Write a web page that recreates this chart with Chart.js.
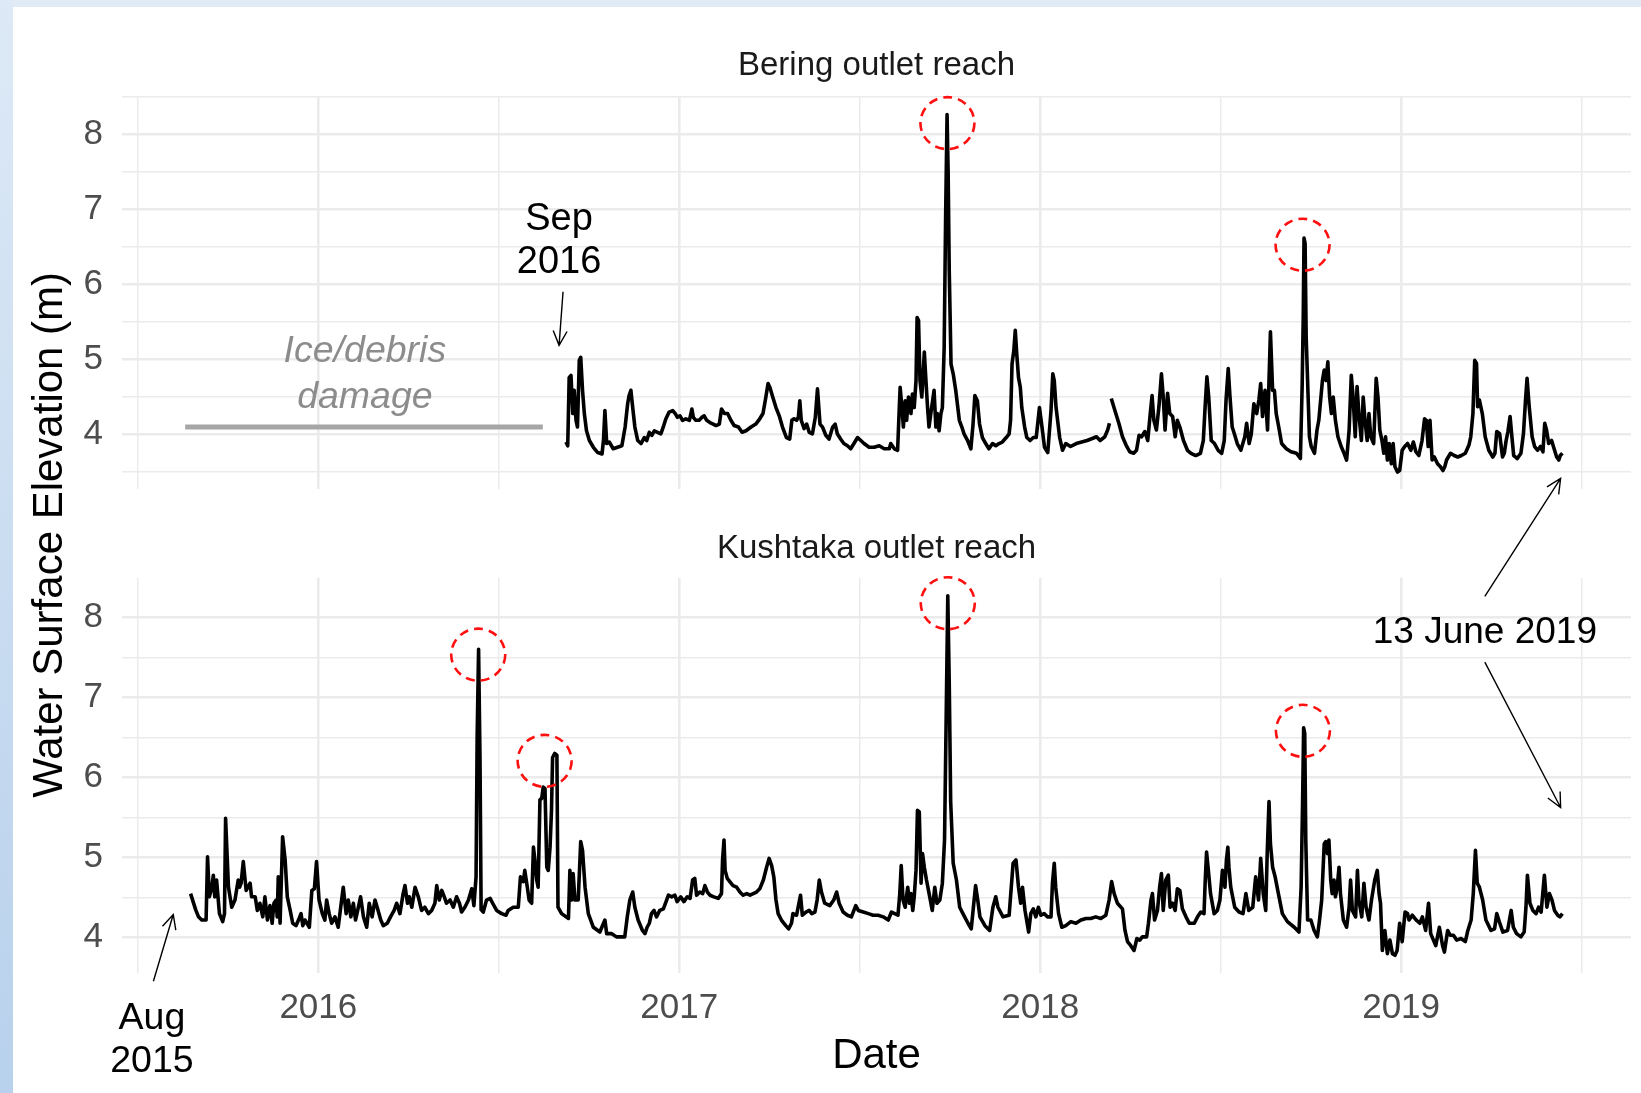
<!DOCTYPE html>
<html>
<head>
<meta charset="utf-8">
<title>Water surface elevation - Bering and Kushtaka outlet reaches</title>
<script src="https://cdn.jsdelivr.net/npm/chart.js@4.4.1/dist/chart.umd.min.js"></script>
<style>
  html, body { margin: 0; padding: 0; background: #fff; }
  #page { position: relative; width: 1641px; height: 1093px; overflow: hidden; background: #fff; }
  .band-top { position: absolute; left: 0; top: 0; width: 1641px; height: 7px; background: #e0ebf6; }
  .band-left { position: absolute; left: 0; top: 0; width: 13px; height: 1093px;
               background: linear-gradient(#dde9f6, #b8d1ec); }
  canvas { position: absolute; left: 0; top: 0; }
</style>
</head>
<body>
<div id="page">
  <div class="band-top"></div>
  <div class="band-left"></div>
  <canvas id="bering" width="1641" height="1093"></canvas>
  <canvas id="kushtaka" width="1641" height="1093"></canvas>
</div>
<script>
// Water surface elevation (m), x in decimal years

const panelTitles = ['Bering outlet reach', 'Kushtaka outlet reach'];
const yearLabels = [2016, 2017, 2018, 2019];

// Bering outlet reach: record starts Sep 2016 (ice/debris damage before)
const beringSeries = [
  [2016.686, 3.90], [2016.691, 3.85], [2016.695, 4.76], [2016.700, 4.79], [2016.705, 4.28], [2016.709, 4.59],
  [2016.714, 4.19], [2016.718, 4.10], [2016.723, 4.99], [2016.727, 5.03], [2016.732, 4.59], [2016.737, 4.28],
  [2016.743, 4.05], [2016.751, 3.92], [2016.762, 3.83], [2016.774, 3.76], [2016.786, 3.74], [2016.790, 3.92],
  [2016.794, 4.32], [2016.799, 3.88], [2016.806, 3.90], [2016.817, 3.81], [2016.829, 3.83], [2016.841, 3.85],
  [2016.850, 4.10], [2016.857, 4.41], [2016.861, 4.52], [2016.866, 4.59], [2016.871, 4.36], [2016.877, 4.10],
  [2016.885, 3.92], [2016.894, 3.88], [2016.903, 3.96], [2016.910, 3.92], [2016.917, 4.03], [2016.924, 3.99],
  [2016.931, 4.05], [2016.940, 4.03], [2016.949, 4.01], [2016.957, 4.12], [2016.963, 4.21], [2016.972, 4.30],
  [2016.982, 4.32], [2016.989, 4.28], [2016.995, 4.23], [2017.002, 4.25], [2017.009, 4.19], [2017.018, 4.21],
  [2017.028, 4.19], [2017.035, 4.34], [2017.039, 4.23], [2017.046, 4.19], [2017.055, 4.19], [2017.063, 4.23],
  [2017.069, 4.25], [2017.076, 4.19], [2017.085, 4.16], [2017.094, 4.14], [2017.102, 4.12], [2017.111, 4.14],
  [2017.117, 4.34], [2017.125, 4.28], [2017.134, 4.28], [2017.143, 4.19], [2017.152, 4.12], [2017.164, 4.10],
  [2017.174, 4.03], [2017.185, 4.05], [2017.199, 4.10], [2017.212, 4.14], [2017.223, 4.21], [2017.232, 4.28],
  [2017.240, 4.50], [2017.246, 4.68], [2017.251, 4.63], [2017.259, 4.50], [2017.268, 4.36], [2017.277, 4.25],
  [2017.286, 4.10], [2017.297, 3.96], [2017.306, 3.94], [2017.312, 4.19], [2017.318, 4.21], [2017.325, 4.19],
  [2017.330, 4.23], [2017.334, 4.45], [2017.338, 4.19], [2017.346, 4.08], [2017.353, 4.14], [2017.360, 4.03],
  [2017.369, 4.01], [2017.377, 4.23], [2017.383, 4.61], [2017.390, 4.14], [2017.397, 4.10], [2017.406, 3.99],
  [2017.415, 3.94], [2017.425, 4.10], [2017.432, 4.14], [2017.438, 4.01], [2017.447, 3.94], [2017.456, 3.88],
  [2017.466, 3.85], [2017.475, 3.81], [2017.484, 3.88], [2017.494, 3.96], [2017.503, 3.92], [2017.512, 3.88],
  [2017.526, 3.83], [2017.540, 3.83], [2017.554, 3.85], [2017.568, 3.81], [2017.582, 3.81], [2017.586, 3.88],
  [2017.596, 3.81], [2017.605, 3.79], [2017.609, 4.28], [2017.612, 4.63], [2017.617, 4.36], [2017.621, 4.10],
  [2017.626, 4.45], [2017.630, 4.19], [2017.635, 4.50], [2017.642, 4.28], [2017.646, 4.54], [2017.651, 4.36],
  [2017.656, 4.72], [2017.659, 5.56], [2017.663, 5.52], [2017.667, 4.72], [2017.672, 4.50], [2017.679, 5.10],
  [2017.683, 4.76], [2017.688, 4.36], [2017.692, 4.10], [2017.697, 4.28], [2017.702, 4.45], [2017.706, 4.59],
  [2017.711, 4.10], [2017.715, 4.28], [2017.720, 4.05], [2017.725, 4.28], [2017.729, 4.36], [2017.734, 5.16],
  [2017.738, 6.90], [2017.742, 8.27], [2017.745, 7.50], [2017.748, 6.20], [2017.753, 4.94], [2017.759, 4.81],
  [2017.766, 4.59], [2017.776, 4.19], [2017.783, 4.10], [2017.789, 4.01], [2017.799, 3.92], [2017.808, 3.81],
  [2017.814, 4.14], [2017.819, 4.52], [2017.826, 4.45], [2017.832, 4.14], [2017.840, 3.96], [2017.849, 3.88],
  [2017.858, 3.81], [2017.868, 3.88], [2017.877, 3.85], [2017.886, 3.88], [2017.895, 3.90], [2017.906, 3.96],
  [2017.914, 4.01], [2017.918, 4.19], [2017.922, 4.94], [2017.927, 5.12], [2017.931, 5.39], [2017.935, 5.08],
  [2017.940, 4.76], [2017.945, 4.63], [2017.949, 4.36], [2017.957, 4.10], [2017.963, 3.96], [2017.972, 3.92],
  [2017.981, 3.96], [2017.989, 3.96], [2017.998, 4.36], [2018.005, 4.10], [2018.012, 3.83], [2018.021, 3.76],
  [2018.030, 4.32], [2018.035, 4.81], [2018.039, 4.72], [2018.044, 4.36], [2018.054, 3.96], [2018.062, 3.79],
  [2018.071, 3.88], [2018.084, 3.84], [2018.100, 3.88], [2018.115, 3.90], [2018.130, 3.92], [2018.146, 3.95],
  [2018.156, 3.97], [2018.166, 3.92], [2018.179, 3.97], [2018.187, 4.06], [2018.192, 4.15], [2018.194, null],
  [2018.197, 4.48], [2018.207, 4.32], [2018.218, 4.15], [2018.228, 3.97], [2018.238, 3.86], [2018.248, 3.77],
  [2018.259, 3.75], [2018.267, 3.79], [2018.274, 3.99], [2018.281, 3.97], [2018.290, 4.04], [2018.298, 3.92],
  [2018.305, 4.28], [2018.310, 4.52], [2018.315, 4.19], [2018.322, 4.06], [2018.329, 4.37], [2018.336, 4.81],
  [2018.341, 4.50], [2018.346, 4.06], [2018.353, 4.55], [2018.359, 4.28], [2018.367, 4.24], [2018.374, 3.97],
  [2018.380, 4.19], [2018.387, 4.10], [2018.397, 3.92], [2018.408, 3.79], [2018.418, 3.75], [2018.431, 3.72],
  [2018.444, 3.75], [2018.452, 3.92], [2018.457, 4.37], [2018.462, 4.77], [2018.467, 4.50], [2018.474, 3.92],
  [2018.483, 3.88], [2018.493, 3.79], [2018.503, 3.75], [2018.510, 3.92], [2018.515, 4.46], [2018.521, 4.88],
  [2018.526, 4.50], [2018.532, 4.10], [2018.538, 4.01], [2018.546, 3.88], [2018.556, 3.79], [2018.567, 3.97],
  [2018.572, 4.15], [2018.579, 3.88], [2018.585, 4.01], [2018.592, 4.41], [2018.600, 4.28], [2018.606, 4.46],
  [2018.611, 4.68], [2018.616, 4.24], [2018.623, 4.59], [2018.630, 4.06], [2018.634, 4.72], [2018.638, 5.37],
  [2018.644, 4.59], [2018.649, 4.59], [2018.654, 4.28], [2018.661, 4.10], [2018.669, 3.88], [2018.682, 3.81],
  [2018.695, 3.77], [2018.710, 3.75], [2018.721, 3.68], [2018.726, 4.68], [2018.729, 5.61], [2018.731, 6.62],
  [2018.734, 6.55], [2018.737, 5.30], [2018.746, 3.97], [2018.751, 3.84], [2018.760, 3.75], [2018.767, 4.06],
  [2018.772, 4.19], [2018.782, 4.72], [2018.787, 4.86], [2018.792, 4.72], [2018.797, 4.97], [2018.802, 4.50],
  [2018.807, 4.28], [2018.812, 4.50], [2018.818, 4.19], [2018.825, 3.97], [2018.834, 3.84], [2018.842, 3.75],
  [2018.849, 3.66], [2018.856, 4.06], [2018.862, 4.79], [2018.867, 4.50], [2018.873, 3.97], [2018.878, 4.64],
  [2018.883, 4.28], [2018.890, 3.92], [2018.895, 4.50], [2018.900, 4.19], [2018.906, 3.92], [2018.911, 4.28],
  [2018.916, 3.97], [2018.924, 3.88], [2018.931, 4.75], [2018.936, 4.50], [2018.941, 4.06], [2018.947, 3.92],
  [2018.952, 3.75], [2018.957, 3.97], [2018.962, 3.66], [2018.967, 3.88], [2018.973, 3.61], [2018.978, 3.88],
  [2018.983, 3.57], [2018.990, 3.50], [2018.996, 3.52], [2019.003, 3.79], [2019.010, 3.84], [2019.018, 3.88],
  [2019.027, 3.79], [2019.034, 3.90], [2019.041, 3.77], [2019.049, 3.72], [2019.058, 3.92], [2019.065, 4.21],
  [2019.070, 4.19], [2019.075, 3.84], [2019.080, 4.19], [2019.086, 3.66], [2019.092, 3.70], [2019.101, 3.61],
  [2019.109, 3.57], [2019.116, 3.52], [2019.121, 3.57], [2019.126, 3.66], [2019.137, 3.75], [2019.147, 3.72],
  [2019.157, 3.70], [2019.167, 3.72], [2019.178, 3.75], [2019.188, 3.86], [2019.193, 3.97], [2019.199, 4.28],
  [2019.204, 4.99], [2019.209, 4.95], [2019.212, 4.37], [2019.217, 4.46], [2019.225, 4.28], [2019.233, 3.97],
  [2019.243, 3.79], [2019.254, 3.70], [2019.260, 3.75], [2019.265, 4.04], [2019.273, 4.01], [2019.281, 3.70],
  [2019.286, 3.75], [2019.291, 3.92], [2019.296, 4.04], [2019.302, 4.24], [2019.307, 3.97], [2019.312, 3.72],
  [2019.322, 3.68], [2019.332, 3.75], [2019.339, 4.01], [2019.345, 4.48], [2019.349, 4.75], [2019.355, 4.37],
  [2019.363, 3.97], [2019.370, 3.84], [2019.378, 3.79], [2019.386, 3.84], [2019.393, 3.77], [2019.398, 4.15],
  [2019.403, 4.06], [2019.409, 3.88], [2019.417, 3.92], [2019.424, 3.81], [2019.431, 3.70], [2019.437, 3.66],
  [2019.441, 3.72], [2019.447, 3.75]
];

// grey bar marking the ice/debris damage period on the Bering gauge
const iceDamage = [[2015.631, 4.10], [2016.622, 4.10]];

// Kushtaka outlet reach: Aug 2015 to 13 June 2019
const kushtakaSeries = [
  [2015.646, 4.55], [2015.660, 4.35], [2015.668, 4.26], [2015.677, 4.22], [2015.689, 4.22], [2015.693, 5.01],
  [2015.698, 4.51], [2015.705, 4.63], [2015.709, 4.78], [2015.713, 4.51], [2015.718, 4.72], [2015.726, 4.30],
  [2015.735, 4.20], [2015.740, 4.30], [2015.743, 5.49], [2015.751, 4.63], [2015.760, 4.38], [2015.769, 4.47],
  [2015.778, 4.72], [2015.782, 4.63], [2015.786, 4.68], [2015.792, 4.95], [2015.800, 4.59], [2015.811, 4.68],
  [2015.815, 4.51], [2015.825, 4.51], [2015.831, 4.34], [2015.838, 4.43], [2015.846, 4.26], [2015.852, 4.51],
  [2015.859, 4.22], [2015.866, 4.40], [2015.872, 4.18], [2015.877, 4.43], [2015.883, 4.47], [2015.886, 4.26],
  [2015.889, 4.76], [2015.894, 4.18], [2015.901, 5.26], [2015.908, 4.97], [2015.914, 4.51], [2015.922, 4.34],
  [2015.929, 4.18], [2015.938, 4.15], [2015.945, 4.22], [2015.952, 4.30], [2015.957, 4.15], [2015.963, 4.22],
  [2015.975, 4.13], [2015.982, 4.59], [2015.989, 4.61], [2015.995, 4.95], [2016.002, 4.47], [2016.011, 4.30],
  [2016.018, 4.22], [2016.023, 4.47], [2016.030, 4.30], [2016.037, 4.18], [2016.046, 4.26], [2016.055, 4.13],
  [2016.062, 4.38], [2016.069, 4.63], [2016.077, 4.30], [2016.083, 4.47], [2016.090, 4.26], [2016.097, 4.43],
  [2016.103, 4.22], [2016.109, 4.34], [2016.117, 4.51], [2016.125, 4.26], [2016.134, 4.13], [2016.141, 4.43],
  [2016.149, 4.26], [2016.157, 4.47], [2016.163, 4.38], [2016.173, 4.22], [2016.180, 4.15], [2016.191, 4.18],
  [2016.200, 4.26], [2016.210, 4.34], [2016.217, 4.43], [2016.226, 4.30], [2016.235, 4.55], [2016.240, 4.65],
  [2016.247, 4.43], [2016.252, 4.51], [2016.259, 4.38], [2016.268, 4.63], [2016.277, 4.51], [2016.286, 4.34],
  [2016.295, 4.38], [2016.305, 4.30], [2016.314, 4.34], [2016.323, 4.43], [2016.328, 4.65], [2016.335, 4.47],
  [2016.342, 4.59], [2016.349, 4.51], [2016.355, 4.43], [2016.365, 4.47], [2016.374, 4.38], [2016.383, 4.51],
  [2016.391, 4.43], [2016.397, 4.32], [2016.406, 4.38], [2016.416, 4.47], [2016.425, 4.61], [2016.431, 4.40],
  [2016.437, 4.76], [2016.440, 6.50], [2016.444, 7.60], [2016.448, 6.20], [2016.451, 4.35], [2016.457, 4.32],
  [2016.466, 4.47], [2016.476, 4.49], [2016.483, 4.43], [2016.494, 4.34], [2016.508, 4.30], [2016.520, 4.28],
  [2016.526, 4.34], [2016.540, 4.38], [2016.554, 4.38], [2016.560, 4.76], [2016.568, 4.70], [2016.572, 4.84],
  [2016.579, 4.63], [2016.584, 4.47], [2016.591, 4.43], [2016.596, 5.13], [2016.600, 4.97], [2016.605, 4.72],
  [2016.609, 4.63], [2016.614, 5.72], [2016.619, 5.74], [2016.623, 5.88], [2016.628, 5.86], [2016.633, 4.88],
  [2016.637, 4.84], [2016.642, 5.13], [2016.646, 5.59], [2016.649, 6.25], [2016.655, 6.30], [2016.661, 6.28],
  [2016.664, 4.38], [2016.674, 4.30], [2016.693, 4.24], [2016.697, 4.84], [2016.702, 4.47], [2016.706, 4.80],
  [2016.711, 4.47], [2016.720, 4.47], [2016.727, 5.20], [2016.732, 5.09], [2016.739, 4.63], [2016.748, 4.30],
  [2016.762, 4.13], [2016.780, 4.07], [2016.794, 4.22], [2016.799, 4.05], [2016.813, 4.05], [2016.826, 4.01],
  [2016.840, 4.01], [2016.849, 4.01], [2016.856, 4.26], [2016.863, 4.47], [2016.871, 4.57], [2016.877, 4.38],
  [2016.886, 4.22], [2016.898, 4.09], [2016.905, 4.05], [2016.911, 4.13], [2016.917, 4.18], [2016.923, 4.30],
  [2016.930, 4.34], [2016.937, 4.26], [2016.946, 4.34], [2016.956, 4.36], [2016.965, 4.47], [2016.970, 4.53],
  [2016.979, 4.51], [2016.988, 4.53], [2016.994, 4.45], [2017.004, 4.51], [2017.013, 4.45], [2017.022, 4.51],
  [2017.030, 4.49], [2017.037, 4.72], [2017.043, 4.74], [2017.048, 4.53], [2017.057, 4.57], [2017.065, 4.55],
  [2017.071, 4.65], [2017.078, 4.57], [2017.085, 4.53], [2017.096, 4.51], [2017.108, 4.49], [2017.117, 4.55],
  [2017.120, 4.97], [2017.124, 5.22], [2017.127, 4.84], [2017.133, 4.74], [2017.140, 4.70], [2017.149, 4.65],
  [2017.159, 4.63], [2017.168, 4.57], [2017.177, 4.53], [2017.187, 4.55], [2017.196, 4.53], [2017.205, 4.55],
  [2017.214, 4.57], [2017.223, 4.61], [2017.233, 4.72], [2017.242, 4.88], [2017.249, 4.99], [2017.256, 4.90],
  [2017.262, 4.76], [2017.268, 4.47], [2017.274, 4.30], [2017.283, 4.22], [2017.295, 4.15], [2017.303, 4.11],
  [2017.311, 4.18], [2017.315, 4.30], [2017.325, 4.28], [2017.336, 4.53], [2017.341, 4.28], [2017.351, 4.32],
  [2017.360, 4.34], [2017.367, 4.30], [2017.376, 4.32], [2017.382, 4.47], [2017.388, 4.72], [2017.394, 4.57],
  [2017.403, 4.43], [2017.417, 4.40], [2017.428, 4.47], [2017.436, 4.57], [2017.443, 4.43], [2017.454, 4.32],
  [2017.466, 4.28], [2017.477, 4.26], [2017.489, 4.40], [2017.496, 4.34], [2017.510, 4.32], [2017.524, 4.30],
  [2017.537, 4.28], [2017.551, 4.28], [2017.565, 4.26], [2017.579, 4.22], [2017.588, 4.32], [2017.597, 4.30],
  [2017.606, 4.28], [2017.611, 4.55], [2017.615, 4.90], [2017.620, 4.47], [2017.626, 4.38], [2017.633, 4.63],
  [2017.638, 4.43], [2017.642, 4.55], [2017.647, 4.34], [2017.651, 4.51], [2017.656, 4.84], [2017.660, 5.59],
  [2017.665, 5.57], [2017.670, 4.68], [2017.674, 5.05], [2017.679, 4.88], [2017.685, 4.72], [2017.694, 4.51],
  [2017.701, 4.34], [2017.708, 4.63], [2017.714, 4.43], [2017.722, 4.47], [2017.729, 4.68], [2017.735, 5.22],
  [2017.740, 6.90], [2017.744, 8.27], [2017.748, 7.20], [2017.752, 5.70], [2017.759, 4.93], [2017.768, 4.72],
  [2017.777, 4.38], [2017.786, 4.30], [2017.800, 4.18], [2017.809, 4.11], [2017.815, 4.38], [2017.821, 4.65],
  [2017.827, 4.47], [2017.833, 4.26], [2017.847, 4.15], [2017.860, 4.09], [2017.869, 4.38], [2017.877, 4.51],
  [2017.883, 4.38], [2017.897, 4.26], [2017.914, 4.28], [2017.925, 4.93], [2017.933, 4.97], [2017.940, 4.63],
  [2017.946, 4.43], [2017.951, 4.63], [2017.958, 4.34], [2017.968, 4.07], [2017.974, 4.30], [2017.981, 4.36],
  [2017.988, 4.26], [2017.995, 4.38], [2018.002, 4.28], [2018.011, 4.30], [2018.020, 4.26], [2018.030, 4.26],
  [2018.034, 4.68], [2018.039, 4.93], [2018.043, 4.63], [2018.051, 4.30], [2018.060, 4.13], [2018.071, 4.15],
  [2018.085, 4.20], [2018.099, 4.18], [2018.113, 4.22], [2018.127, 4.24], [2018.140, 4.24], [2018.154, 4.26],
  [2018.168, 4.24], [2018.182, 4.28], [2018.191, 4.47], [2018.198, 4.70], [2018.205, 4.55], [2018.214, 4.43],
  [2018.228, 4.36], [2018.235, 4.09], [2018.242, 3.95], [2018.251, 3.90], [2018.260, 3.84], [2018.268, 3.99],
  [2018.276, 3.97], [2018.283, 4.01], [2018.295, 4.01], [2018.300, 4.18], [2018.307, 4.47], [2018.311, 4.55],
  [2018.317, 4.22], [2018.325, 4.34], [2018.331, 4.63], [2018.336, 4.80], [2018.341, 4.34], [2018.348, 4.72],
  [2018.355, 4.78], [2018.360, 4.38], [2018.367, 4.43], [2018.374, 4.34], [2018.380, 4.61], [2018.387, 4.59],
  [2018.394, 4.36], [2018.404, 4.26], [2018.413, 4.18], [2018.427, 4.18], [2018.436, 4.26], [2018.445, 4.32],
  [2018.454, 4.30], [2018.457, 4.68], [2018.461, 5.07], [2018.466, 4.84], [2018.472, 4.55], [2018.482, 4.30],
  [2018.491, 4.34], [2018.498, 4.47], [2018.505, 4.84], [2018.512, 4.63], [2018.516, 4.97], [2018.520, 5.13],
  [2018.523, 4.88], [2018.528, 4.63], [2018.539, 4.38], [2018.551, 4.32], [2018.562, 4.30], [2018.570, 4.55],
  [2018.578, 4.34], [2018.589, 4.38], [2018.597, 4.76], [2018.605, 4.47], [2018.611, 4.99], [2018.618, 4.55],
  [2018.625, 4.34], [2018.629, 5.05], [2018.634, 5.70], [2018.638, 5.17], [2018.644, 4.88], [2018.651, 4.76],
  [2018.660, 4.55], [2018.671, 4.30], [2018.685, 4.20], [2018.704, 4.13], [2018.717, 4.07], [2018.723, 4.63],
  [2018.727, 5.67], [2018.730, 6.62], [2018.733, 6.55], [2018.736, 5.20], [2018.741, 4.22], [2018.750, 4.22],
  [2018.759, 4.09], [2018.768, 4.01], [2018.774, 4.22], [2018.780, 4.47], [2018.787, 5.17], [2018.791, 5.20],
  [2018.796, 5.05], [2018.800, 5.22], [2018.805, 4.72], [2018.809, 4.55], [2018.814, 4.72], [2018.818, 4.51],
  [2018.823, 4.63], [2018.828, 4.88], [2018.832, 4.55], [2018.840, 4.22], [2018.849, 4.13], [2018.856, 4.38],
  [2018.860, 4.72], [2018.865, 4.34], [2018.874, 4.26], [2018.879, 4.84], [2018.883, 4.47], [2018.891, 4.26],
  [2018.897, 4.68], [2018.903, 4.38], [2018.911, 4.22], [2018.918, 4.47], [2018.927, 4.72], [2018.934, 4.84],
  [2018.939, 4.55], [2018.943, 4.43], [2018.948, 3.84], [2018.955, 4.09], [2018.962, 3.80], [2018.969, 3.97],
  [2018.976, 3.80], [2018.983, 3.78], [2018.989, 3.84], [2018.996, 4.18], [2019.003, 3.95], [2019.011, 4.32],
  [2019.018, 4.30], [2019.022, 4.22], [2019.031, 4.28], [2019.042, 4.22], [2019.052, 4.18], [2019.059, 4.26],
  [2019.068, 4.09], [2019.076, 4.43], [2019.082, 4.05], [2019.096, 3.90], [2019.106, 4.13], [2019.115, 3.90],
  [2019.120, 3.82], [2019.129, 4.09], [2019.136, 4.03], [2019.145, 4.03], [2019.154, 3.97], [2019.166, 3.99],
  [2019.178, 3.95], [2019.185, 4.09], [2019.194, 4.22], [2019.200, 4.55], [2019.206, 5.09], [2019.211, 4.68],
  [2019.217, 4.63], [2019.226, 4.47], [2019.235, 4.22], [2019.249, 4.09], [2019.259, 4.11], [2019.265, 4.30],
  [2019.272, 4.20], [2019.282, 4.07], [2019.295, 4.09], [2019.305, 4.34], [2019.311, 4.13], [2019.320, 4.05],
  [2019.332, 4.01], [2019.341, 4.07], [2019.346, 4.38], [2019.350, 4.78], [2019.357, 4.43], [2019.365, 4.34],
  [2019.374, 4.30], [2019.381, 4.38], [2019.388, 4.32], [2019.397, 4.78], [2019.404, 4.38], [2019.411, 4.55],
  [2019.418, 4.47], [2019.425, 4.34], [2019.434, 4.28], [2019.440, 4.26], [2019.447, 4.30]
];

// annotations, in data units of each panel ([year, level, panel])
const notes = {
  bering: {
    rings: [[2017.743, 8.155], [2018.727, 6.532]],
    arrows: [{ from: [2016.678, 5.905], to: [2016.667, 5.19] }],
    labels: [
      { at: [2016.667, 6.908], text: 'Sep', size: 38 },
      { at: [2016.667, 6.342], text: '2016', size: 38 },
      { at: [2016.129, 5.143], text: 'Ice/debris', size: 37.5, italic: true, color: '#8c8c8c' },
      { at: [2016.129, 4.537], text: 'damage', size: 37.5, italic: true, color: '#8c8c8c' }
    ]
  },
  kushtaka: {
    rings: [[2016.443, 7.534], [2016.627, 6.208], [2017.744, 8.176], [2018.728, 6.583]],
    arrows: [
      { from: [2015.543, 3.455], to: [2015.598, 4.29] },
      { from: [2019.232, 8.263], to: [2019.442, 3.414, 'bering'] },
      { from: [2019.232, 7.44], to: [2019.442, 5.625] }
    ],
    labels: [
      { at: [2015.539, 3.023], text: 'Aug', size: 37.5 },
      { at: [2015.539, 2.486], text: '2015', size: 37.5 },
      { at: [2019.232, 7.838], text: '13 June 2019', size: 37 }
    ],
    yTitle: 'Water Surface Elevation (m)'
  }
};

const FONT = "'Liberation Sans', Arial, Helvetica, sans-serif";
const X_MIN = 2015.456, X_MAX = 2019.637;
const panels = {};

const isWhole = v => Math.abs(v - Math.round(v)) < 1e-6;
const gridWidth = c => isWhole(c.tick.value) ? 2.6 : 1.5;
const toXY = rows => rows.map(r => ({ x: r[0], y: r[1] }));

function drawArrow(ctx, a, b) {
  const ang = Math.atan2(b[1] - a[1], b[0] - a[0]);
  const len = 16, spread = Math.PI / 7;
  ctx.beginPath();
  ctx.moveTo(a[0], a[1]);
  ctx.lineTo(b[0], b[1]);
  ctx.moveTo(b[0] - len * Math.cos(ang - spread), b[1] - len * Math.sin(ang - spread));
  ctx.lineTo(b[0], b[1]);
  ctx.lineTo(b[0] - len * Math.cos(ang + spread), b[1] - len * Math.sin(ang + spread));
  ctx.stroke();
}

const notesPlugin = {
  id: 'notes',
  afterDraw(chart) {
    const o = notes[chart.canvas.id];
    if (!o) return;
    const ctx = chart.ctx;
    const xs = chart.scales.x;
    const pt = p => {
      const ys = (p[2] ? panels[p[2]] : chart).scales.y;
      return [xs.getPixelForValue(p[0]), ys.getPixelForValue(p[1])];
    };
    ctx.save();
    ctx.strokeStyle = '#ff1010';
    ctx.lineWidth = 2.6;
    ctx.setLineDash([9, 6]);
    for (const r of o.rings) {
      const [x, y] = pt(r);
      ctx.beginPath();
      ctx.ellipse(x, y, 27, 26, 0, 0, Math.PI * 2);
      ctx.stroke();
    }
    ctx.setLineDash([]);
    ctx.strokeStyle = '#000';
    ctx.lineWidth = 1.4;
    for (const a of o.arrows) drawArrow(ctx, pt(a.from), pt(a.to));

    ctx.textAlign = 'center';
    ctx.textBaseline = 'middle';
    for (const t of o.labels) {
      const [x, y] = pt(t.at);
      ctx.font = (t.italic ? 'italic ' : '') + t.size + 'px ' + FONT;
      ctx.fillStyle = t.color || '#000';
      // nudge so the cap height, not the em box, sits on the anchor
      ctx.fillText(t.text, x, y + t.size * 0.08);
    }
    if (o.yTitle && panels.bering) {
      // shared y title spans both panels
      const midY = (panels.bering.chartArea.top + chart.chartArea.bottom) / 2;
      ctx.translate(chart.chartArea.left - 72, midY);
      ctx.rotate(-Math.PI / 2);
      ctx.font = '42px ' + FONT;
      ctx.fillStyle = '#000';
      ctx.fillText(o.yTitle, 0, 0);
    }
    ctx.restore();
  }
};

function makePanel(id, cfg) {
  return new Chart(document.getElementById(id), {
    type: 'line',
    data: { datasets: cfg.datasets },
    options: {
      responsive: false,
      animation: false,
      devicePixelRatio: 1,
      parsing: false,
      layout: { padding: cfg.padding },
      elements: {
        point: { radius: 0, hoverRadius: 0 },
        line: { tension: 0, borderJoinStyle: 'round' }
      },
      plugins: {
        legend: { display: false },
        tooltip: { enabled: false },
        title: {
          display: true, text: cfg.title, fullSize: false, color: '#1a1a1a',
          font: { family: FONT, size: 33, weight: 'normal' },
          padding: { top: 0, bottom: cfg.titleGap }
        }
      },
      scales: {
        x: {
          type: 'linear', min: X_MIN, max: X_MAX,
          grid: { color: '#ebebeb', lineWidth: gridWidth, drawTicks: false },
          border: { display: false },
          ticks: {
            display: cfg.showDates, stepSize: 0.5, includeBounds: false, autoSkip: false, maxRotation: 0,
            padding: 14, color: '#4d4d4d', font: { family: FONT, size: 35 },
            callback: v => yearLabels.includes(Math.round(v)) && isWhole(v) ? String(Math.round(v)) : ''
          },
          title: {
            display: cfg.showDates, text: 'Date', color: '#000',
            font: { family: FONT, size: 42, weight: 'normal' }, padding: { top: 0, bottom: 11 }
          },
          afterFit: s => { s.height = cfg.xHeight; }
        },
        y: {
          min: cfg.yRange[0], max: cfg.yRange[1],
          grid: { color: '#ebebeb', lineWidth: gridWidth, drawTicks: false },
          border: { display: false },
          ticks: {
            stepSize: 0.5, includeBounds: false, autoSkip: false, padding: 19, color: '#4d4d4d',
            font: { family: FONT, size: 35 },
            callback: v => isWhole(v) ? String(Math.round(v)) : ''
          },
          afterFit: s => { s.width = 122; }
        }
      }
    },
    plugins: [notesPlugin]
  });
}

panels.bering = makePanel('bering', {
  title: panelTitles[0],
  titleGap: 11.2,
  padding: { left: 0, right: 10, top: 45.7, bottom: 604.5 },
  xHeight: 0,
  showDates: false,
  yRange: [3.28, 8.51],
  datasets: [
    { data: toXY(iceDamage), borderColor: '#a6a6a6', borderWidth: 5, borderCapStyle: 'butt' },
    { data: toXY(beringSeries), borderColor: '#000', borderWidth: 3.6 }
  ]
});

panels.kushtaka = makePanel('kushtaka', {
  title: panelTitles[1],
  titleGap: 9.1,
  padding: { left: 0, right: 10, top: 529, bottom: 0 },
  xHeight: 119.7,
  showDates: true,
  yRange: [3.555, 8.495],
  datasets: [
    { data: toXY(kushtakaSeries), borderColor: '#000', borderWidth: 3.6 }
  ]
});
</script>
</body>
</html>
